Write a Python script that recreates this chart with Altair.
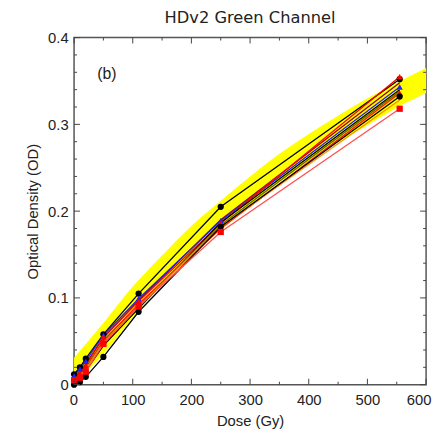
import altair as alt
import pandas as pd

# ---- data ----
doses = [0, 10, 20, 50, 110, 250, 555]

series_names = ["black_top", "maroon", "blue", "red_tri_top", "black_mid", "olive",
                "red_tri_mid", "orange", "black_bottom", "red_square"]
series_values = [
    [0.012, 0.020, 0.030, 0.058, 0.105, 0.205, 0.352],
    [0.008, 0.015, 0.024, 0.054, 0.097, 0.190, 0.348],
    [0.010, 0.018, 0.027, 0.057, 0.099, 0.189, 0.343],
    [0.006, 0.013, 0.022, 0.055, 0.096, 0.186, 0.355],
    [0.003, 0.008, 0.016, 0.045, 0.088, 0.187, 0.340],
    [0.006, 0.012, 0.020, 0.051, 0.092, 0.184, 0.338],
    [0.004, 0.010, 0.018, 0.050, 0.093, 0.180, 0.336],
    [0.005, 0.010, 0.018, 0.048, 0.090, 0.182, 0.328],
    [0.000, 0.003, 0.009, 0.032, 0.084, 0.182, 0.332],
    [0.005, 0.008, 0.015, 0.047, 0.090, 0.176, 0.318],
]
series_colors = ["#000000", "#990000", "#2020ff", "#ff0000", "#000000", "#6b6b00",
                 "#ff2000", "#ff8c00", "#000000", "#ff5050"]
series_markers = ["circle", "none", "triangle-up", "triangle-up", "none", "none",
                  "triangle-up", "none", "circle", "square"]
marker_colors = ["#000000", "#990000", "#2020ff", "#ff0000", "#000000", "#6b6b00",
                 "#ff0000", "#ff8c00", "#000000", "#ff0000"]

band_dose = [0, 50, 100, 150, 200, 250, 300, 350, 400, 450, 500, 550, 600]
band_low = [0.000, 0.035, 0.077, 0.115, 0.149, 0.178, 0.206, 0.233, 0.257, 0.279, 0.299, 0.319, 0.336]
band_high = [0.031, 0.071, 0.113, 0.149, 0.183, 0.212, 0.240, 0.266, 0.289, 0.310, 0.330, 0.348, 0.365]

x_major = [0, 100, 200, 300, 400, 500, 600]
x_minor = [50, 150, 250, 350, 450, 550]
y_major = [0.0, 0.1, 0.2, 0.3, 0.4]
y_minor = [0.02, 0.04, 0.06, 0.08, 0.12, 0.14, 0.16, 0.18, 0.22, 0.24, 0.26, 0.28,
           0.32, 0.34, 0.36, 0.38]

panel_label = ["(b)"]
panel_label_x = [56]
panel_label_y = [0.358]

# ---- build tables ----
rows = []
for name, vals, mk in zip(series_names, series_values, series_markers):
    for d, v in zip(doses, vals):
        rows.append({"series": name, "dose": d, "od": v, "marker": mk})
df = pd.DataFrame(rows)
band_df = pd.DataFrame({"dose": band_dose, "lo": band_low, "hi": band_high})

W, H = 357, 352
FONT = "Liberation Sans"

xs = alt.Scale(domain=[0, 600], nice=False, zero=False)
ys = alt.Scale(domain=[0, 0.4], nice=False, zero=False)

band = alt.Chart(band_df).mark_area(color="#ffff00", opacity=1, interpolate="monotone").encode(
    x=alt.X("dose:Q", scale=xs,
            axis=alt.Axis(values=x_major, ticks=False, domain=False, grid=False,
                          labelFlush=True, labelFlushOffset=5, labelOverlap=False,
                          labelFont=FONT, labelFontSize=15, labelColor="#222",
                          labelPadding=8, title="Dose (Gy)", titleFont=FONT,
                          titleFontSize=15, titleFontWeight="normal", titleColor="#222",
                          titlePadding=6)),
    y=alt.Y("lo:Q", scale=ys,
            axis=alt.Axis(values=y_major, ticks=False, domain=False, grid=False,
                          labelFlush=False, labelOverlap=False,
                          labelFont=FONT, labelFontSize=15, labelColor="#222",
                          labelPadding=6,
                          labelExpr="datum.value == 0 ? '0' : format(datum.value, '.1f')",
                          title="Optical Density (OD)", titleFont=FONT,
                          titleFontSize=15, titleFontWeight="normal", titleColor="#222",
                          titlePadding=7)),
    y2="hi:Q",
)

color_scale = alt.Scale(domain=series_names, range=series_colors)

lines = alt.Chart(df).mark_line(strokeWidth=1.3).encode(
    x=alt.X("dose:Q", scale=xs),
    y=alt.Y("od:Q", scale=ys),
    color=alt.Color("series:N", scale=color_scale, legend=None),
    order="dose:Q",
)

pts_df = df[df["marker"] != "none"].copy()
pts_df["mcolor"] = pts_df["series"].map(dict(zip(series_names, marker_colors)))
points = alt.Chart(pts_df).mark_point(filled=True, size=40, opacity=1).encode(
    x=alt.X("dose:Q", scale=xs),
    y=alt.Y("od:Q", scale=ys),
    shape=alt.Shape("marker:N",
                    scale=alt.Scale(domain=["circle", "triangle-up", "square"],
                                    range=["circle", "triangle-up", "square"]),
                    legend=None),
    fill=alt.Fill("mcolor:N", scale=None),
    stroke=alt.value(None),
)

tick_color = "#444"
xmaj = pd.DataFrame({"v": x_major})
xmin = pd.DataFrame({"v": x_minor})
ymaj = pd.DataFrame({"v": y_major})
ymin = pd.DataFrame({"v": y_minor})

def xticks(d, length):
    b = alt.Chart(d).mark_rule(color=tick_color, strokeWidth=1).encode(
        x=alt.X("v:Q", scale=xs), y=alt.value(H), y2=alt.value(H - length))
    t = alt.Chart(d).mark_rule(color=tick_color, strokeWidth=1).encode(
        x=alt.X("v:Q", scale=xs), y=alt.value(0), y2=alt.value(length))
    return b + t

def yticks(d, length):
    l = alt.Chart(d).mark_rule(color=tick_color, strokeWidth=1).encode(
        y=alt.Y("v:Q", scale=ys), x=alt.value(0), x2=alt.value(length))
    r = alt.Chart(d).mark_rule(color=tick_color, strokeWidth=1).encode(
        y=alt.Y("v:Q", scale=ys), x=alt.value(W), x2=alt.value(W - length))
    return l + r

label = alt.Chart(pd.DataFrame({"t": panel_label, "x": panel_label_x, "y": panel_label_y})).mark_text(
    font=FONT, fontSize=16, color="#222", align="center", baseline="middle").encode(
    x=alt.X("x:Q", scale=xs), y=alt.Y("y:Q", scale=ys), text="t:N")

chart = alt.layer(
    band, lines, points,
    xticks(xmaj, 6), xticks(xmin, 3), yticks(ymaj, 6), yticks(ymin, 3),
    label,
).properties(
    width=W, height=H,
    title=alt.TitleParams("HDv2 Green Channel", font="DejaVu Sans", fontSize=16.5,
                          fontWeight="normal", color="#222", offset=4),
    autosize=alt.AutoSizeParams(type="none"),
    padding={"left": 67, "top": 27, "right": 6, "bottom": 46},
).configure_view(
    stroke="#555", strokeWidth=1.5
)

chart.save("out.html", embed_options={"renderer": "svg", "actions": False})
